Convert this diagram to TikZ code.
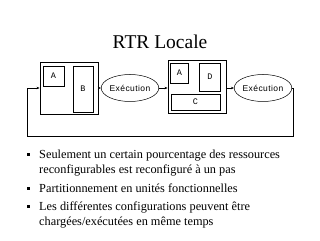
\documentclass[tikz,border=0pt]{standalone}
\usepackage{fontspec}
\setmainfont{Liberation Serif}
\newfontfamily\labelfont{Liberation Mono}
\newfontfamily\execfont[LetterSpace=5]{Liberation Sans}
\usetikzlibrary{shapes.geometric,arrows.meta}

\tikzset{
  cfgbox/.style={draw, line width=0.9pt, inner sep=0pt},
  unitbox/.style={draw, line width=0.7pt, inner sep=0pt, font=\labelfont\fontsize{8.5}{9}\selectfont},
  exec/.style={draw, ellipse, line width=0.5pt, inner sep=0pt, minimum width=46pt, minimum height=27pt,
               font=\execfont\fontsize{8.5}{9}\selectfont},
  flow/.style={line width=0.8pt, -{Stealth[length=3pt,width=2.5pt]}},
  puce/.style={fill, minimum size=3pt, inner sep=0pt},
  item/.style={anchor=base west, align=left, inner sep=0pt, font=\fontsize{12.3}{15}\selectfont}
}

\begin{document}
\begin{tikzpicture}[x=1pt,y=-1pt]
  \useasboundingbox (0,0) rectangle (320,240);

  \node[anchor=base, font=\fontsize{19.5}{22}\selectfont] (titre) at (160,49) {RTR Locale};

  % premiere configuration
  \node[cfgbox, minimum width=58pt, minimum height=52pt] (cfg1) at (69,88) {};
  \node[unitbox, minimum width=21pt, minimum height=20pt] (a1) at (53.5,76) {A};
  \node[unitbox, minimum width=20pt, minimum height=46pt] (b1) at (83,89) {B};
  \node[exec] (exec1) at (130,88) {Exécution};

  % seconde configuration
  \node[cfgbox, minimum width=58pt, minimum height=53pt] (cfg2) at (197,87) {};
  \node[unitbox, minimum width=18pt, minimum height=20pt] (a2) at (179.5,73) {A};
  \node[unitbox, minimum width=21pt, minimum height=28pt] (d2) at (210,77) {D};
  \node[unitbox, minimum width=49pt, minimum height=16pt] (c2) at (195.5,102) {C};
  \node[exec] (exec2) at (263,88) {Exécution};

  \draw[flow] (cfg1.east |- exec1.west) -- (exec1.west);
  \draw[flow] (exec1.east) -- (cfg2.west |- exec1.east);
  \draw[flow] (cfg2.east |- exec2.west) -- (exec2.west);
  \draw[flow] (exec2.east) -| (293,136) -- (27,136) |- (cfg1.west);

  % liste (ancre sur la ligne de base de la derniere ligne)
  \node[puce] (p1) at (28,154) {};
  \node[item] (t1) at (39,173) {Seulement un certain pourcentage des ressources\\reconfigurables est reconfiguré à un pas};
  \node[puce] (p2) at (28,188) {};
  \node[item] (t2) at (39,192) {Partitionnement en unités fonctionnelles};
  \node[puce] (p3) at (28,206) {};
  \node[item] (t3) at (39,225) {Les différentes configurations peuvent être\\chargées/exécutées en même temps};
\end{tikzpicture}
\end{document}
